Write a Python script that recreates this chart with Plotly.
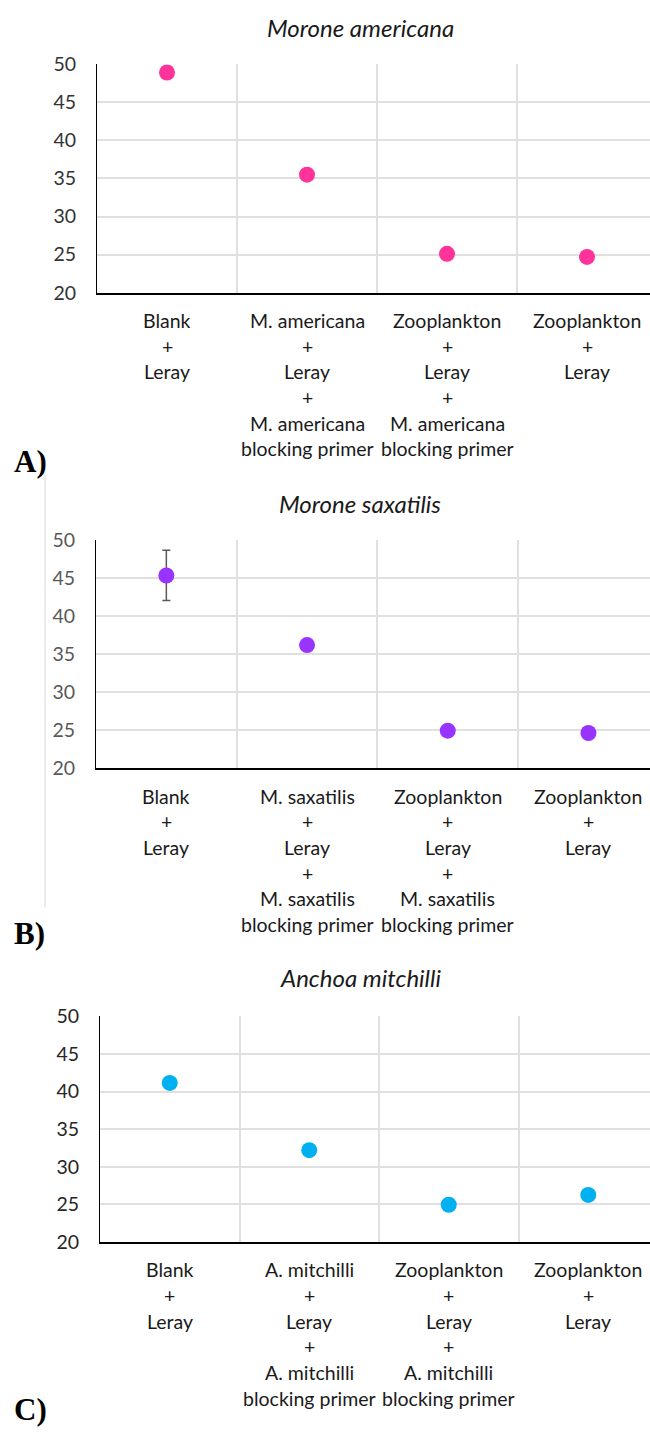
import plotly.graph_objects as go

# ---- data ----
species = ["Morone americana", "Morone saxatilis", "Anchoa mitchilli"]
panel_tags = ["A)", "B)", "C)"]
short_names = ["M. americana", "M. saxatilis", "A. mitchilli"]

ct_americana = [48.9, 35.5, 25.1, 24.7]
ct_saxatilis = [45.35, 36.2, 24.95, 24.65]
ct_mitchilli = [41.15, 32.2, 24.95, 26.25]
err_saxatilis = [3.3, 0, 0, 0]

y_ticks = [20, 25, 30, 35, 40, 45, 50]


def category_labels(name):
    return [
        ["Blank", "+", "Leray"],
        [name, "+", "Leray", "+", name, "blocking primer"],
        ["Zooplankton", "+", "Leray", "+", name, "blocking primer"],
        ["Zooplankton", "+", "Leray"],
    ]


series = [ct_americana, ct_saxatilis, ct_mitchilli]
errors = [None, err_saxatilis, None]
colors = ["#FF3399", "#9933FF", "#00B0F0"]

# ---- layout geometry (pixels) ----
W, H = 650, 1435
# plot area: left edge, top (y=50), bottom (y=20), category width
panels_px = [
    dict(left=97, top=53.0, bottom=285.3, step=140.0, title_y=15.5, tag_y=456.7),
    dict(left=96, top=536.7, bottom=768.7, step=140.7, title_y=499.0, tag_y=936.7),
    dict(left=100, top=1020.7, bottom=1250.0, step=139.5, title_y=981.7, tag_y=1420.0),
]
tick_colors = ["#333333", "#595959", "#262626"]

FONT = "Lato"
LINE_GAP = 25.7

fig = go.Figure()
annotations = []

for i, (vals, err, col, geo) in enumerate(zip(series, errors, colors, panels_px)):
    n = "" if i == 0 else str(i + 1)
    xa, ya = "x" + n, "y" + n
    tr = dict(
        x=list(range(len(vals))),
        y=vals,
        mode="markers",
        marker=dict(color=col, size=16),
        xaxis=xa,
        yaxis=ya,
        showlegend=False,
        hoverinfo="skip",
    )
    if err is not None:
        tr["error_y"] = dict(type="data", array=err, visible=True,
                             color="#595959", thickness=1.5, width=4)
    fig.add_trace(go.Scatter(**tr))

    x_hi = -0.5 + (W - geo["left"]) / geo["step"]
    fig.layout["xaxis" + n] = dict(
        domain=[geo["left"] / W, 1],
        range=[-0.5, x_hi],
        anchor=ya,
        tickvals=[0, 1, 2, 3],
        showticklabels=False,
        showgrid=False,
        zeroline=False,
        showline=True,
        linecolor="#000000",
        linewidth=1.8,
        ticks="",
        minor=dict(tickmode="array", tickvals=[0.5, 1.5, 2.5, 3.5],
                   showgrid=True, gridcolor="#e0e0e0", gridwidth=1.5, ticks=""),
        fixedrange=True,
    )
    fig.layout["yaxis" + n] = dict(
        domain=[1 - geo["bottom"] / H, 1 - geo["top"] / H],
        range=[20, 50],
        anchor=xa,
        tickvals=y_ticks,
        tickfont=dict(family=FONT, size=19.5, color=tick_colors[i]),
        ticks="",
        ticklabelstandoff=16,
        showgrid=True,
        gridcolor="#e0e0e0",
        gridwidth=1.5,
        zeroline=False,
        showline=True,
        linecolor="#000000",
        linewidth=1.2,
        fixedrange=True,
    )

    # category labels, one text line at a time beneath each category
    for c, lines in enumerate(category_labels(short_names[i])):
        for k, line in enumerate(lines):
            annotations.append(dict(
                x=c, xref=xa, y=0, yref=ya + " domain",
                yshift=-(27.7 + k * LINE_GAP), yanchor="middle",
                xanchor="center", text=line, showarrow=False,
                font=dict(family=FONT, size=19.5, color="#1a1a1a"),
            ))

    # panel title
    annotations.append(dict(
        x=360 / W, xref="paper", y=1 - geo["title_y"] / H, yref="paper",
        xanchor="center", yanchor="middle", showarrow=False,
        text="<i>" + species[i] + "</i>",
        font=dict(family=FONT, size=24, color="#1a1a1a"),
    ))

    # panel tag
    annotations.append(dict(
        x=12 / W, xref="paper", y=1 - geo["tag_y"] / H, yref="paper",
        xanchor="left", yanchor="middle", showarrow=False,
        text="<b>" + panel_tags[i] + "</b>",
        font=dict(family="Liberation Serif", size=31, color="#000000"),
    ))

fig.update_layout(
    width=W,
    height=H,
    margin=dict(l=0, r=0, t=0, b=0),
    paper_bgcolor="#ffffff",
    plot_bgcolor="#ffffff",
    annotations=annotations,
    shapes=[dict(type="line", xref="paper", yref="paper",
                 x0=45 / W, x1=45 / W, y0=1 - 470 / H, y1=1 - 910 / H,
                 line=dict(color="#d9d9d9", width=1))],
)

fig.write_html("out.html")
